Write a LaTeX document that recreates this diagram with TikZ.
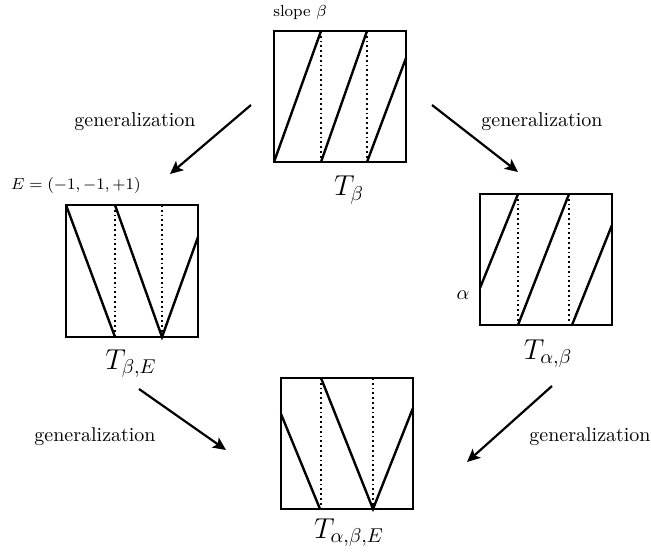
\documentclass[tikz,border=0pt]{standalone}
\usetikzlibrary{arrows.meta}
\begin{document}
\begin{tikzpicture}[x=0.5pt,y=-0.5pt,
  frame/.style={draw,line width=1.4pt},
  graphline/.style={line width=1.2pt},
  dots/.style={line width=0.9pt,dash pattern=on 0.9pt off 1.5pt},
  genarrow/.style={line width=1.1pt,-{Stealth[length=6.5pt,width=6pt,inset=1.5pt]}},
  lbl/.style={inner sep=0pt},
  biglbl/.style={inner sep=0pt,anchor=base,font=\Large}]
\useasboundingbox (0,0) rectangle (651,555);
% ---- top box T_beta
\draw[frame] (274,31) rectangle (406,162);
\draw[dots] (321,31) -- (321,162) (367,31) -- (367,162);
\draw[graphline] (274,162) -- (321,31) (321,162) -- (367,31) (367,162) -- (406,58);
\node[lbl,font=\footnotesize] (slope) at (300,13) {slope $\beta$};
\node[biglbl] (tb) at (349,196) {$T_\beta$};
% ---- left box T_{beta,E}
\draw[frame] (66,205) rectangle (198,337);
\draw[dots] (115,205) -- (115,337) (162,205) -- (162,337);
\draw[graphline] (66,205) -- (115,337) (115,205) -- (162,337) -- (198,237);
\node[lbl,font=\footnotesize] (elbl) at (76,186) {$E=(-1,-1,+1)$};
\node[biglbl] (tbe) at (131,369) {$T_{\beta,E}$};
% ---- right box T_{alpha,beta}
\draw[frame] (480,194) rectangle (612,325);
\draw[dots] (518,194) -- (518,325) (569,194) -- (569,325);
\draw[graphline] (480,288) -- (518,194) (518,325) -- (569,194) (572,325) -- (612,225);
\node[lbl] (alpha) at (463,295) {$\alpha$};
\node[biglbl] (tab) at (548,359) {$T_{\alpha,\beta}$};
% ---- bottom box T_{alpha,beta,E}
\draw[frame] (281,378) rectangle (413,509);
\draw[dots] (321,378) -- (321,509) (373,378) -- (373,509);
\draw[graphline] (281,414) -- (320,509) (321,378) -- (373,509) -- (413,408);
\node[biglbl] (tabe) at (349,538) {$T_{\alpha,\beta,E}$};
% ---- arrows
\coordinate (a1s) at (251,105); \coordinate (a1e) at (170,174);
\coordinate (a2s) at (432,105); \coordinate (a2e) at (518,172);
\coordinate (a3s) at (139,389); \coordinate (a3e) at (226,450);
\coordinate (a4s) at (552,386); \coordinate (a4e) at (467,462);
\draw[genarrow] (a1s) -- (a1e);
\draw[genarrow] (a2s) -- (a2e);
\draw[genarrow] (a3s) -- (a3e);
\draw[genarrow] (a4s) -- (a4e);
\node[lbl] (g1) at (135,122) {generalization};
\node[lbl] (g2) at (542,122) {generalization};
\node[lbl] (g3) at (95,437) {generalization};
\node[lbl] (g4) at (590,437) {generalization};
\end{tikzpicture}
\end{document}
